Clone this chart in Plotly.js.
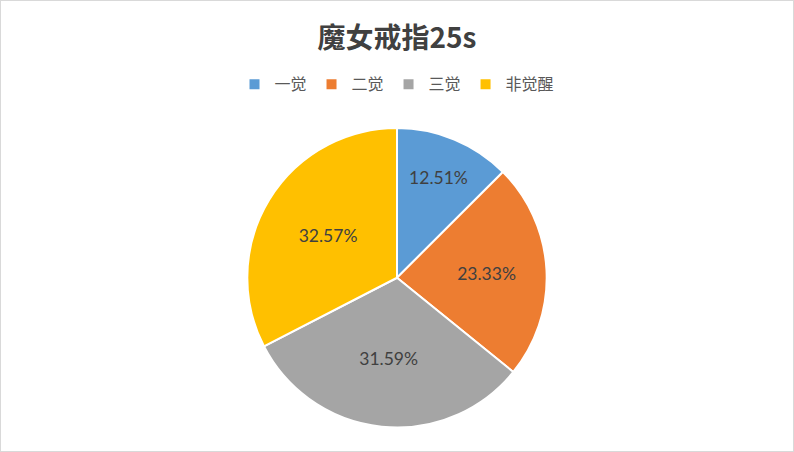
<!DOCTYPE html>
<html>
<head>
<meta charset="utf-8">
<script src="https://cdn.plot.ly/plotly-3.0.1.min.js"></script>
<style>
  body { margin: 0; background: #fff; }
  #chart { width: 792px; height: 450px; border: 1px solid #d9d9d9; }
</style>
</head>
<body>
<div id="chart"></div>
<script>
// awakening stages and their share (%)
var labels = ['一觉', '二觉', '三觉', '非觉醒'];
var shares = [12.51, 23.33, 31.59, 32.57];
var colors = ['#5b9bd5', '#ed7d31', '#a5a5a5', '#ffc000'];

var trace = {
  type: 'pie',
  labels: labels,
  values: shares,
  sort: false,
  direction: 'clockwise',
  rotation: 0,
  marker: { colors: colors, line: { color: '#ffffff', width: 2 } },
  texttemplate: '%{value:.2f}%',
  textposition: 'inside',
  insidetextorientation: 'horizontal',
  insidetextfont: { family: 'Lato, "Open Sans", sans-serif', size: 17.5, color: '#404040' },
  hoverinfo: 'label+value',
  domain: { x: [0.311, 0.689], y: [0.052, 0.718] }
};

var layout = {
  width: 792,
  height: 450,
  margin: { l: 0, r: 0, t: 0, b: 0 },
  paper_bgcolor: '#ffffff',
  title: {
    text: '<b>魔女戒指25s</b>',
    font: { family: '"Noto Sans CJK SC", sans-serif', size: 28, color: '#404040' },
    x: 0.5,
    xanchor: 'center',
    y: 0.918,
    yanchor: 'middle'
  },
  showlegend: true,
  legend: {
    orientation: 'h',
    x: 0.5,
    xanchor: 'center',
    y: 0.815,
    yanchor: 'middle',
    font: { family: '"Noto Sans CJK SC", sans-serif', size: 16, color: '#595959' },
    traceorder: 'normal'
  }
};

Plotly.newPlot('chart', [trace], layout, { displayModeBar: false });
</script>
</body>
</html>
